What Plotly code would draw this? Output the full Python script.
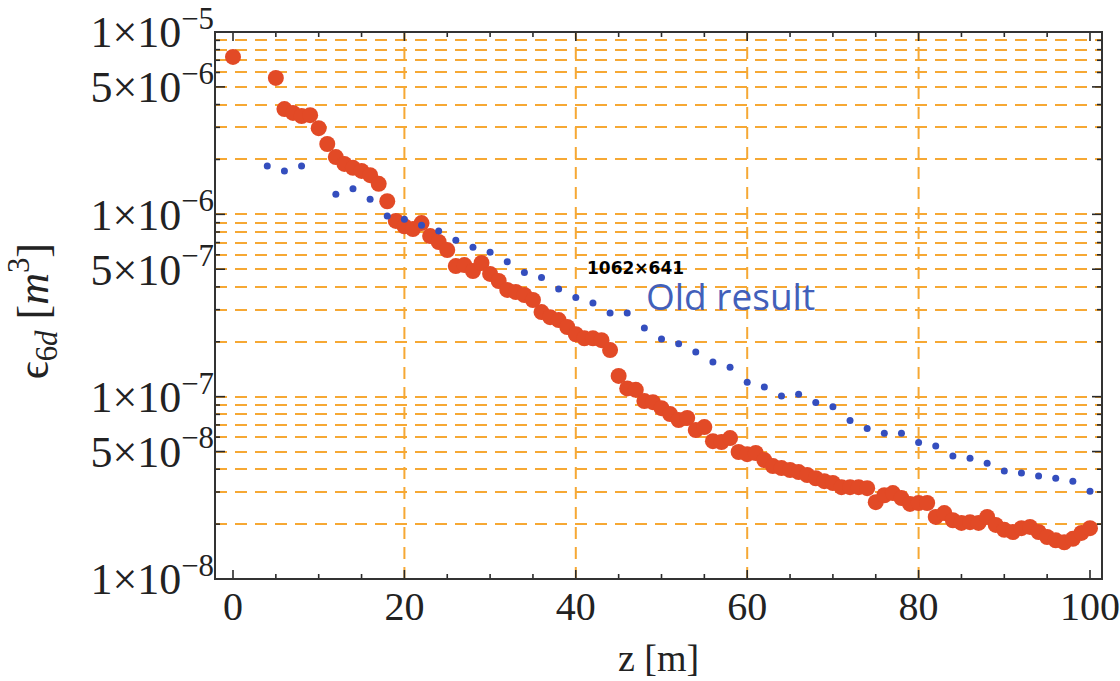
import plotly.graph_objects as go

# ---- data ----
z_new = [0, 5, 6, 7, 8, 9, 10, 11, 12, 13, 14, 15, 16, 17, 18, 19, 20, 21, 22, 23, 24,
         25, 26, 27, 28, 29, 30, 31, 32, 33, 34, 35, 36, 37, 38, 39, 40, 41, 42, 43, 44,
         45, 46, 47, 48, 49, 50, 51, 52, 53, 54, 55, 56, 57, 58, 59, 60, 61, 62, 63, 64,
         65, 66, 67, 68, 69, 70, 71, 72, 73, 74, 75, 76, 77, 78, 79, 80, 81, 82, 83, 84,
         85, 86, 87, 88, 89, 90, 91, 92, 93, 94, 95, 96, 97, 98, 99, 100]
eps_new = [7.3e-6, 5.6e-6, 3.78e-6, 3.6e-6, 3.46e-6, 3.5e-6, 2.97e-6, 2.43e-6, 2.06e-6,
           1.89e-6, 1.80e-6, 1.73e-6, 1.64e-6, 1.47e-6, 1.18e-6, 9.2e-7, 8.6e-7, 8.3e-7,
           8.95e-7, 7.6e-7, 7.05e-7, 6.37e-7, 5.2e-7, 5.27e-7, 4.89e-7, 5.41e-7, 4.71e-7,
           4.31e-7, 3.85e-7, 3.75e-7, 3.61e-7, 3.39e-7, 2.91e-7, 2.73e-7, 2.63e-7, 2.41e-7,
           2.2e-7, 2.09e-7, 2.09e-7, 2.04e-7, 1.80e-7, 1.30e-7, 1.11e-7, 1.09e-7, 9.46e-8,
           9.33e-8, 8.65e-8, 8.03e-8, 7.45e-8, 7.64e-8, 6.56e-8, 6.81e-8, 5.7e-8, 5.64e-8,
           5.93e-8, 4.97e-8, 4.84e-8, 4.91e-8, 4.49e-8, 4.16e-8, 4.06e-8, 3.96e-8, 3.86e-8,
           3.72e-8, 3.57e-8, 3.44e-8, 3.36e-8, 3.19e-8, 3.19e-8, 3.19e-8, 3.15e-8, 2.64e-8,
           2.88e-8, 2.96e-8, 2.78e-8, 2.58e-8, 2.61e-8, 2.61e-8, 2.19e-8, 2.30e-8, 2.10e-8,
           2.03e-8, 2.05e-8, 2.03e-8, 2.19e-8, 1.98e-8, 1.86e-8, 1.81e-8, 1.90e-8, 1.93e-8,
           1.81e-8, 1.70e-8, 1.63e-8, 1.59e-8, 1.66e-8, 1.79e-8, 1.90e-8]

z_old = [4, 6, 8, 12, 14, 16, 18, 20, 22, 24, 26, 28, 30, 32, 34, 36, 38, 40, 42, 44, 46,
         48, 50, 52, 54, 56, 58, 60, 62, 64, 66, 68, 70, 72, 74, 76, 78, 80, 82, 84, 86,
         88, 90, 92, 94, 96, 98, 100]
eps_old = [1.84e-6, 1.73e-6, 1.84e-6, 1.29e-6, 1.38e-6, 1.21e-6, 9.8e-7, 9.4e-7, 8.7e-7,
           8.1e-7, 7.2e-7, 6.6e-7, 6.2e-7, 5.5e-7, 4.8e-7, 4.5e-7, 3.9e-7, 3.5e-7, 3.26e-7,
           2.88e-7, 2.88e-7, 2.38e-7, 2.07e-7, 1.95e-7, 1.76e-7, 1.55e-7, 1.45e-7, 1.20e-7,
           1.13e-7, 1.01e-7, 1.03e-7, 9.3e-8, 8.8e-8, 7.4e-8, 6.7e-8, 6.3e-8, 6.3e-8, 5.6e-8,
           5.36e-8, 4.72e-8, 4.6e-8, 4.32e-8, 3.91e-8, 3.81e-8, 3.67e-8, 3.57e-8, 3.44e-8,
           3.03e-8]

x_ticks = [0, 20, 40, 60, 80, 100]
x_minor = [5, 10, 15, 25, 30, 35, 45, 50, 55, 65, 70, 75, 85, 90, 95]
x_grid = [20, 40, 60, 80]
y_ticks = [1e-8, 5e-8, 1e-7, 5e-7, 1e-6, 5e-6, 1e-5]
y_ticktext = ["1×10<sup>−8</sup>", "5×10<sup>−8</sup>", "1×10<sup>−7</sup>",
              "5×10<sup>−7</sup>", "1×10<sup>−6</sup>", "5×10<sup>−6</sup>",
              "1×10<sup>−5</sup>"]
y_minor = [m * 10.0 ** e for e in (-8, -7, -6) for m in (2, 3, 4, 6, 7, 8, 9)]

RED = "rgb(226,74,38)"
BLUE = "rgb(52,78,190)"
ORANGE = "rgb(246,168,52)"
SERIF = "Liberation Serif"
DASH = "12px,8px"
INK = "#2a2a2a"

fig = go.Figure()
fig.add_trace(go.Scatter(x=z_new, y=eps_new, mode="markers",
                         marker=dict(color=RED, size=16, line=dict(width=0)),
                         showlegend=False))
fig.add_trace(go.Scatter(x=z_old, y=eps_old, mode="markers",
                         marker=dict(color=BLUE, size=7, line=dict(width=0)),
                         showlegend=False))

# vertical dashed grid lines only at the inner major x ticks
for gx in x_grid:
    fig.add_shape(type="line", xref="x", yref="paper", x0=gx, x1=gx, y0=0, y1=1,
                  line=dict(color=ORANGE, width=2, dash=DASH), layer="below")

# frame ticks (inside, on all four sides), placed at the axis tick values
tick_line = dict(color=INK, width=1.6)
for vals, length in ((x_ticks, 9), (x_minor, 5)):
    for v in vals:
        fig.add_shape(type="line", xref="x", yref="paper", ysizemode="pixel",
                      yanchor=0, x0=v, x1=v, y0=0, y1=length, line=tick_line,
                      layer="above")
        fig.add_shape(type="line", xref="x", yref="paper", ysizemode="pixel",
                      yanchor=1, x0=v, x1=v, y0=-length, y1=0, line=tick_line,
                      layer="above")
for vals, length in ((y_ticks, 10), (y_minor, 5)):
    for v in vals:
        fig.add_shape(type="line", xref="paper", yref="y", xsizemode="pixel",
                      xanchor=0, x0=0, x1=length, y0=v, y1=v, line=tick_line,
                      layer="above")
        fig.add_shape(type="line", xref="paper", yref="y", xsizemode="pixel",
                      xanchor=1, x0=-length, x1=0, y0=v, y1=v, line=tick_line,
                      layer="above")

# frame around the plotting area
fig.add_shape(type="rect", xref="paper", yref="paper", x0=0, x1=1, y0=0, y1=1,
              line=dict(color="#333333", width=2), fillcolor="rgba(0,0,0,0)",
              layer="above")

fig.update_layout(
    template="none",
    width=1120, height=681,
    margin=dict(l=215, r=18, t=32, b=102, pad=0),
    paper_bgcolor="white", plot_bgcolor="white",
    font=dict(family=SERIF, color="#222222"),
    xaxis=dict(
        automargin=False,
        range=[-2.1, 101.4], tickmode="array", tickvals=x_ticks, ticks="",
        showgrid=False, zeroline=False, showline=False,
        tickfont=dict(family=SERIF, size=40, color="#222"),
    ),
    yaxis=dict(
        automargin=False,
        type="log", range=[-8, -5], tickmode="array", tickvals=y_ticks,
        ticktext=y_ticktext, ticks="",
        showgrid=True, gridcolor=ORANGE, gridwidth=2, griddash=DASH,
        zeroline=False, showline=False,
        tickfont=dict(family=SERIF, size=44, color="#222"),
        minor=dict(tickmode="array", tickvals=y_minor, ticks="",
                   showgrid=True, gridcolor=ORANGE, gridwidth=2, griddash=DASH),
    ),
    annotations=[
        dict(text="ϵ<sub>6<i>d</i></sub> [<i>m</i><sup>3</sup>]", textangle=-90,
             xref="paper", yref="paper", x=-0.205, y=0.49, showarrow=False,
             xanchor="center", yanchor="middle",
             font=dict(family=SERIF, size=44, color="#222")),
        dict(text="z [m]", xref="paper", yref="paper", x=0.5, y=-0.145,
             showarrow=False, xanchor="center", yanchor="middle",
             font=dict(family=SERIF, size=38, color="#222")),
        dict(text="<b>1062×641</b>", xref="x", yref="y", x=47.0, y=-6.295,
             showarrow=False, xanchor="center", yanchor="middle",
             font=dict(family="DejaVu Sans", size=17, color="black")),
        dict(text="Old result", xref="x", yref="y", x=48.0, y=-6.445,
             showarrow=False, xanchor="left", yanchor="middle",
             font=dict(family="Open Sans", size=37, color="rgb(66,96,186)")),
    ],
)

fig.write_html("out.html")
